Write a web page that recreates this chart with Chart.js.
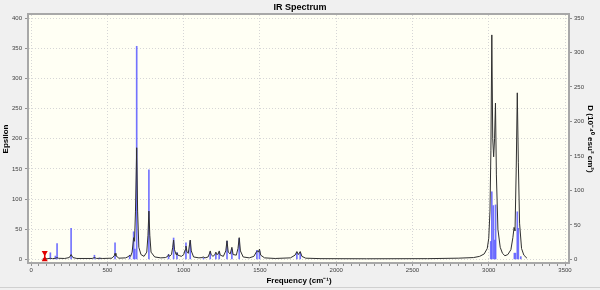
<!DOCTYPE html>
<html>
<head>
<meta charset="utf-8">
<script src="https://cdn.jsdelivr.net/npm/chart.js@4"></script>
<style>
  html, body { margin: 0; padding: 0; background: #f0f0f0; }
  canvas { display: block; }
</style>
</head>
<body>
<canvas id="irChart" width="600" height="290"></canvas>
<script>
// ---- datos ----
// curva ensanchada (Epsilon, eje izquierdo)
const curveFreq = [75, 85, 110, 126, 140, 159, 170, 180, 220, 250, 262, 274, 300, 400, 415, 430, 449, 470,
  530, 545, 550, 556, 575, 620, 640, 646, 652, 662, 672, 678, 684, 692, 698, 706, 720, 740, 758, 766, 772, 778, 786, 810,
  850, 880, 895, 901, 907, 920, 928, 934, 940, 950, 956, 962, 985, 1000, 1010, 1015, 1022, 1030, 1038, 1043, 1050, 1065,
  1100, 1120, 1128, 1140, 1160, 1168, 1174, 1180, 1192, 1205, 1211, 1217, 1226, 1233, 1240, 1260, 1276, 1284, 1292,
  1305, 1316, 1324, 1345, 1356, 1364, 1372, 1390, 1430, 1460, 1478, 1484, 1490, 1497, 1505, 1530, 1600, 1700, 1730,
  1742, 1752, 1764, 1775, 1800, 1900, 2200, 2600, 2800, 2900, 2940, 2970, 2990, 3000, 3008, 3014, 3020, 3026, 3032,
  3038, 3044, 3050, 3060, 3075, 3090, 3106, 3125, 3145, 3158, 3166, 3172, 3180, 3187, 3194, 3202, 3215, 3230, 3250];
const curveEps = [0.5, 0.8, 1.2, 1.8, 1.2, 1.8, 3, 1.8, 1.5, 3, 8, 3, 1.5, 1.5, 3, 1.5, 1.8, 1.5,
  2, 6, 10, 6, 2, 2.5, 5, 7, 5, 12, 36, 30, 80, 185, 80, 20, 8, 5, 12, 40, 80, 40, 12, 4,
  2.5, 3, 5, 8, 5, 8, 20, 32, 16, 8, 11, 7, 5, 8, 16, 22, 12, 10, 24, 32, 14, 4,
  2.5, 3, 4, 2.5, 4, 9, 14, 8, 5, 8, 12, 8, 9, 14, 7, 5, 14, 31, 12,
  9, 20, 8, 7, 18, 36, 14, 4, 2.5, 5, 13, 14, 12, 17, 7, 2.5, 1.5, 2.5, 7,
  13, 8, 13, 5, 2, 1.2, 1, 1.2, 2, 3, 5, 9, 18, 35, 80, 180, 372, 200, 170,
  200, 259, 140, 50, 20, 10, 6, 8, 16, 36, 53, 47, 150, 276, 160, 60, 18, 7, 2];

// barras (D, eje derecho)
const stickFreq = [126, 159, 170, 262, 415, 449, 550, 646, 672, 680, 692, 772, 901, 934, 956, 1015, 1043,
  1130, 1174, 1211, 1233, 1284, 1316, 1364, 1480, 1497, 1742, 1764,
  3013, 3020, 3030, 3040, 3045, 3168, 3175, 3187, 3194, 3210];
const stickD = [9.6, 4.8, 23, 45, 6, 2, 24, 6, 40, 15, 309, 130, 7, 31, 10, 24, 27,
  2, 10, 7.5, 10, 26, 15, 30, 13, 12, 10, 10,
  26, 98, 78, 28, 79, 9, 9, 69, 45, 4];

// marcador rojo
const markerFreq = [89, 89];
const markerEps = [0, 11];

const FONT = 'Liberation Sans';
Chart.defaults.font.family = FONT;

const curveData = curveFreq.map((f, i) => ({ x: f, y: curveEps[i] }));
const stickData = stickFreq.map((f, i) => ({ x: f, y: stickD[i] }));
const markerData = markerFreq.map((f, i) => ({ x: f, y: markerEps[i] }));

// fondo y marco del area de trazado
const plotFrame = {
  id: 'plotFrame',
  beforeDraw(chart) {
    const { ctx, chartArea: a } = chart;
    ctx.save();
    ctx.fillStyle = '#f0f0f0';
    ctx.fillRect(0, 0, chart.width, chart.height);
    ctx.fillStyle = '#fffff4';
    ctx.fillRect(a.left, a.top, a.right - a.left, a.bottom - a.top);
    ctx.fillStyle = '#d0d0d0';
    ctx.fillRect(0, 287, chart.width, 1);
    ctx.restore();
  },
  afterDraw(chart) {
    const { ctx, chartArea: a } = chart;
    ctx.save();
    ctx.strokeStyle = '#a8a8a8';
    ctx.lineWidth = 2;
    ctx.strokeRect(a.left - 1, a.top - 1, a.right - a.left + 1, a.bottom - a.top + 1);
    ctx.restore();
  }
};

new Chart(document.getElementById('irChart'), {
  data: {
    datasets: [
      {
        type: 'line', data: markerData, yAxisID: 'y', order: 0,
        borderColor: '#e00000', backgroundColor: '#e00000', borderWidth: 1.5,
        pointStyle: 'triangle', pointRadius: 2, pointRotation: [0, 180]
      },
      {
        type: 'line', data: curveData, yAxisID: 'y', order: 1,
        borderColor: '#303030', borderWidth: 1, pointRadius: 0, tension: 0
      },
      {
        type: 'bar', data: stickData, yAxisID: 'y1', order: 2,
        backgroundColor: 'rgba(90, 90, 255, 0.85)', barThickness: 1
      }
    ]
  },
  options: {
    responsive: false,
    animation: false,
    events: [],
    layout: { padding: 0 },
    plugins: {
      legend: { display: false },
      tooltip: { enabled: false },
      title: {
        display: true, text: 'IR Spectrum', color: '#000',
        font: { size: 9, weight: 'bold' }, padding: { top: 2, bottom: 2.2 }
      }
    },
    scales: {
      x: {
        type: 'linear', min: -14, max: 3526, offset: false,
        afterFit: s => { s.height = 27; },
        ticks: {
          stepSize: 50, autoSkip: false, maxRotation: 0, includeBounds: false,
          callback: v => (v % 500 === 0 ? v : ''),
          font: { size: 6 }, color: '#404040', padding: 1
        },
        grid: {
          offset: false,
          color: c => (c.tick && c.tick.value % 500 === 0 ? '#d6d6d6' : 'rgba(0,0,0,0)'),
          tickColor: '#909090', tickLength: 3
        },
        border: { display: false, dash: [1, 2] },
        title: {
          display: true, text: 'Frequency (cm⁻¹)', color: '#000',
          font: { size: 8, weight: 'bold' }, padding: { top: 0, bottom: 4 }
        }
      },
      y: {
        position: 'left', min: -6, max: 405,
        afterFit: s => { s.width = 29; },
        ticks: { stepSize: 50, includeBounds: false, font: { size: 6 }, color: '#404040', padding: 3 },
        grid: { color: '#d6d6d6', tickColor: '#909090', tickLength: 4 },
        border: { display: false, dash: [1, 2] },
        title: {
          display: true, text: 'Epsilon', color: '#000',
          font: { size: 8, weight: 'bold' }, padding: { top: 1, bottom: 0 }
        }
      },
      y1: {
        position: 'right', min: -5.25, max: 354.375,
        afterFit: s => { s.width = 31; },
        ticks: { stepSize: 50, includeBounds: false, font: { size: 6 }, color: '#404040', padding: 2 },
        grid: { drawOnChartArea: false, tickColor: '#909090', tickLength: 3 },
        border: { display: false },
        title: {
          display: true, text: 'D (10⁻⁴⁰ esu² cm²)', color: '#000',
          font: { size: 8, weight: 'bold' }, padding: { top: 5, bottom: 0 }
        }
      }
    }
  },
  plugins: [plotFrame]
});
</script>
</body>
</html>
